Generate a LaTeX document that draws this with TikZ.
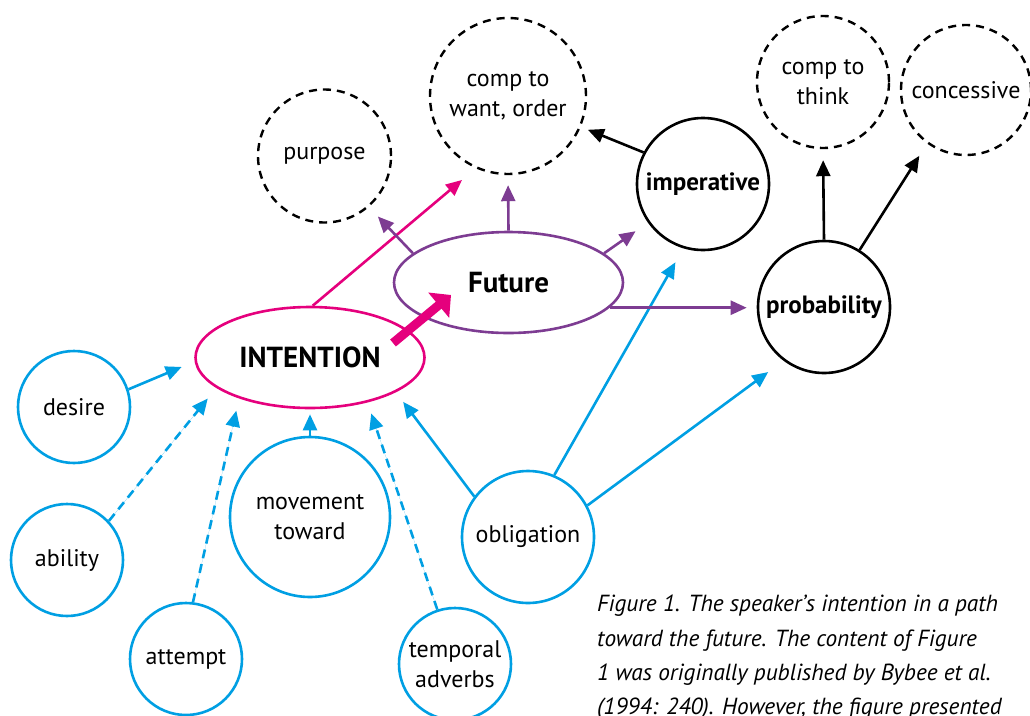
\documentclass[tikz,border=0pt]{standalone}
\usepackage{fontspec}
\setmainfont{PT Sans}
\usetikzlibrary{arrows.meta,calc,shapes.geometric}
\definecolor{cblue}{HTML}{009FE3}
\definecolor{cmag}{HTML}{E5007D}
\definecolor{cpurp}{HTML}{7D3C92}
\begin{document}
\begin{tikzpicture}[x=1pt,y=-1pt,
  lbl/.style={font=\fontsize{24}{30}\selectfont, align=center, inner sep=0pt, text=black},
  bc/.style={circle, draw=cblue, line width=2.6pt, minimum size=112pt, lbl},
  dc/.style={circle, draw=black, line width=2.4pt, dash pattern=on 8pt off 6pt, lbl},
  kc/.style={circle, draw=black, line width=2.6pt, minimum size=132pt, lbl, font=\bfseries\fontsize{25}{30}\selectfont},
  el/.style={ellipse, line width=2.6pt, inner sep=0pt, minimum width=229pt, minimum height=101pt, font=\bfseries\fontsize{29}{32}\selectfont},
  tip/.style={-{Triangle[length=16pt,width=14pt]}},
  barr/.style={tip, draw=cblue, fill=cblue, line width=2.6pt},
  bdarr/.style={barr, dash pattern=on 9pt off 6pt},
  parr/.style={tip, draw=cpurp, fill=cpurp, line width=2.6pt},
  marr/.style={tip, draw=cmag, fill=cmag, line width=2.6pt},
  karr/.style={tip, draw=black, fill=black, line width=2.6pt},
]
\useasboundingbox (0,0) rectangle (1030,715);
% nodes
\node[bc] (desire) at (74,407) {desire};
\node[bc] (ability) at (67,560) {ability};
\node[bc] (attempt) at (186,659) {attempt};
\node[bc, minimum size=160pt] (movement) at (310,517) {movement\\toward};
\node[bc] (temporal) at (455,664) {temporal\\adverbs};
\node[bc, minimum size=132pt] (obligation) at (528,537) {obligation};
\node[el, draw=cmag] (intention) at (310,357.5) {INTENTION};
\node[el, draw=cpurp] (future) at (508.5,282.5) {Future};
\node[dc, minimum size=133pt] (purpose) at (324.5,156) {purpose};
\node[dc, minimum size=156pt] (compwant) at (508,96) {comp to\\want, order};
\node[dc, minimum size=132pt] (compthink) at (823,82) {comp to\\think};
\node[dc, minimum size=130pt] (concessive) at (966,90) {concessive};
\node[kc] (imperative) at (703,184) {imperative};
\node[kc] (probability) at (824,307) {probability};
% blue arrows into INTENTION
\draw[barr, shorten >=14pt] (desire.18) -- (intention.182.3);
\draw[bdarr, shorten >=13.5pt] (ability.43.6) -- (intention.198.2);
\draw[bdarr, shorten >=12.5pt] (attempt.83) -- (intention.210.3);
\draw[barr, shorten >=5pt] (movement.90) -- (intention.270);
\draw[bdarr, shorten >=11.5pt] (temporal.108) -- (intention.322.7);
\draw[barr, shorten >=12pt] (obligation.143) -- (intention.338.2);
\draw[barr, shorten >=16pt] (obligation.67.2) -- (imperative.253.2);
\draw[barr, shorten >=19pt] (obligation.28.7) -- (probability.233.7);
% magenta
\draw[marr, shorten >=18pt] (intention.87) -- (compwant.246.4);
\coordinate (thickS) at (393,343);
\coordinate (thickE) at (451,295);
\draw[cmag, line width=9pt, -{Triangle[length=16pt,width=32pt]}] (thickS) -- (thickE);
% purple
\draw[parr, shorten >=13pt] (future.163.5) -- (purpose.311.9);
\draw[parr, shorten >=10pt] (future.90) -- (compwant.270);
\draw[parr, shorten >=15pt] (future.17.3) -- (imperative.215.8);
\draw[parr, shorten >=10pt] (future.-14) -- (future.-14 -| probability.west);
% black
\draw[karr, shorten >=7.5pt] (imperative.152.7) -- (compwant.337.4);
\draw[karr, shorten >=11pt] (probability.90) -- (compthink.270);
\draw[karr, shorten >=14.5pt] (probability.58.2) -- (concessive.234.3);
% caption
\node[anchor=north west, align=left, inner sep=0pt, font=\itshape\fontsize{23.3}{34.3}\selectfont] (caption) at (597,595)
{Figure 1. The speaker’s intention in a path\\toward the future. The content of Figure\\1 was originally published by Bybee et al.\\(1994: 240). However, the figure presented};
\end{tikzpicture}
\end{document}
